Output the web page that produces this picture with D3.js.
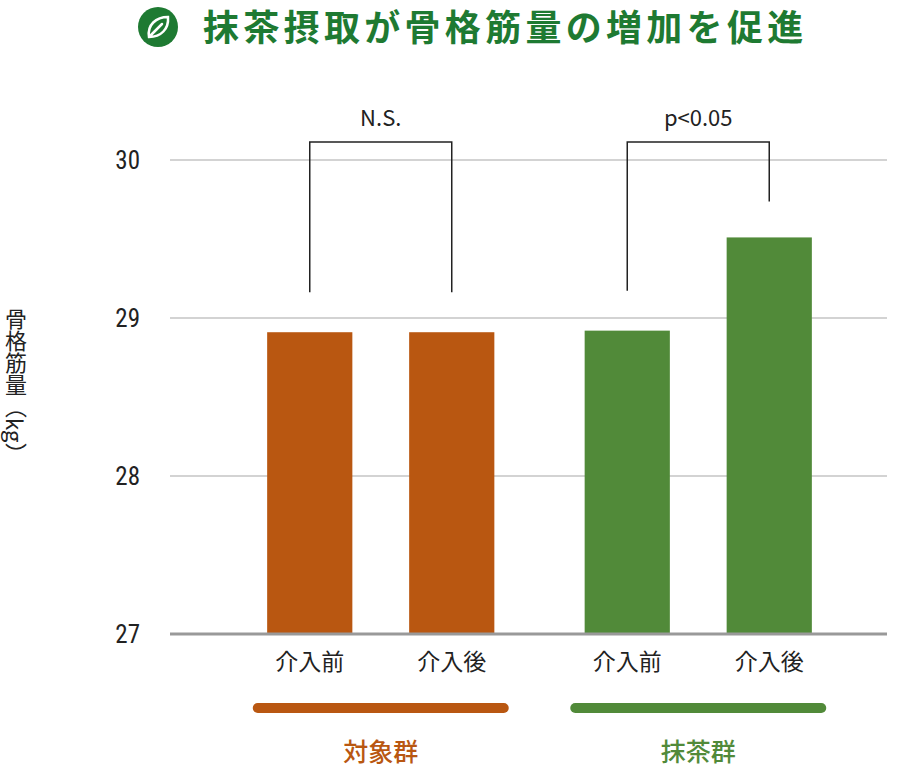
<!DOCTYPE html>
<html><head><meta charset="utf-8">
<script src="https://cdn.jsdelivr.net/npm/d3@7"></script>
<style>body{margin:0;background:#fff}svg{font-family:"Noto Sans CJK JP","Noto Sans",sans-serif}</style>
</head><body><svg id="c" width="897" height="774"></svg>
<script>
const groups = ['対象群', '抹茶群']
const phases = ['介入前', '介入後']
const values = [[28.91, 28.91], [28.92, 29.51]]
const ticks = [27, 28, 29, 30]
const sigLabels = ['N.S.', 'p<0.05']
const colors = ['#b95711', '#518a39']

const svg = d3.select('#c')
const y = d3.scaleLinear().domain([27, 30]).range([634, 160])
const gx = d3.scaleBand().domain(groups).range([222, 857])
const ix = d3.scaleBand().domain(phases).range([0, gx.bandwidth()]).paddingInner(0.4).paddingOuter(0.318)

// title
const title = svg.append('g')
title.append('circle').attr('cx', 158).attr('cy', 27).attr('r', 20).attr('fill', '#1e7a32')
title.append('path').attr('d', 'M149,37 C147,25 156,17 168,17 C169,29 161,37 149,37 Z M150,36 L162,24')
    .attr('fill', 'none').attr('stroke', '#fff').attr('stroke-width', 2.5).attr('stroke-linecap', 'round')
title.append('text').attr('x', 203).attr('y', 41).attr('font-size', 36).attr('font-weight', 700)
    .attr('letter-spacing', 4.3).attr('fill', '#1e7a32').text('抹茶摂取が骨格筋量の増加を促進')

// grid
svg.append('g').selectAll('line').data(ticks.slice(1)).join('line')
    .attr('x1', 170).attr('x2', 887).attr('y1', d => y(d)).attr('y2', d => y(d))
    .attr('stroke', '#c4c4c4').attr('stroke-width', 1.5)
svg.append('g').selectAll('text').data(ticks).join('text')
    .attr('x', 140).attr('y', d => y(d) + 9).attr('text-anchor', 'end')
    .attr('font-size', 25).attr('font-family', 'Roboto Condensed, Liberation Sans Narrow, sans-serif')
    .attr('fill', '#222').text(d => d)

// bars
groups.forEach((g, gi) => {
    const gg = svg.append('g').attr('transform', `translate(${gx(g)},0)`)
    gg.selectAll('rect').data(values[gi]).join('rect')
        .attr('x', (d, i) => ix(phases[i])).attr('width', ix.bandwidth())
        .attr('y', d => y(d)).attr('height', d => y(27) - y(d)).attr('fill', colors[gi])
    gg.selectAll('text').data(phases).join('text')
        .attr('x', d => ix(d) + ix.bandwidth() / 2).attr('y', 670).attr('text-anchor', 'middle')
        .attr('font-size', 23).attr('fill', '#222').text(d => d)
    // bracket
    const xa = ix(phases[0]) + ix.bandwidth() / 2, xb = ix(phases[1]) + ix.bandwidth() / 2
    const top = y(30) - 18
    const ya = y(values[gi][0]) - 40, yb = y(values[gi][1]) - (gi ? 36 : 40)
    gg.append('path').attr('d', `M${xa},${ya}V${top}H${xb}V${yb}`)
        .attr('fill', 'none').attr('stroke', '#222').attr('stroke-width', 1.5)
    gg.append('text').attr('x', (xa + xb) / 2).attr('y', top - 16).attr('text-anchor', 'middle')
        .attr('font-size', 22).attr('fill', '#222').text(sigLabels[gi])
    // group bar and label
    gg.append('line').attr('x1', xa - 52).attr('x2', xb + 52).attr('y1', 708).attr('y2', 708)
        .attr('stroke', colors[gi]).attr('stroke-width', 10).attr('stroke-linecap', 'round')
    gg.append('text').attr('x', (xa + xb) / 2).attr('y', 761).attr('text-anchor', 'middle')
        .attr('font-size', 25).attr('font-weight', 500).attr('fill', colors[gi]).text(g)
})

// baseline
svg.append('line').attr('x1', 170).attr('x2', 887).attr('y1', y(27)).attr('y2', y(27))
    .attr('stroke', '#999').attr('stroke-width', 3)

// y label
svg.append('text').attr('x', 16).attr('y', 308).style('writing-mode', 'vertical-rl')
    .attr('font-size', 22).attr('fill', '#222').text('骨格筋量（kg）')
</script></body></html>
